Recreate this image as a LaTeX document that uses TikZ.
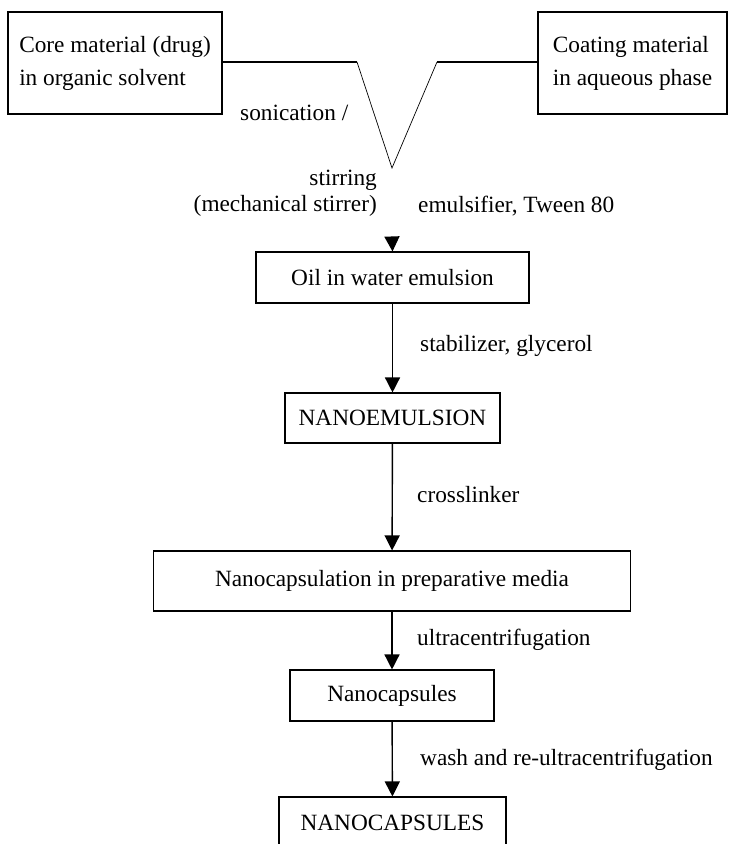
\documentclass[tikz,border=0pt]{standalone}
\usepackage{fontspec}
\setmainfont{Liberation Serif}
\usetikzlibrary{arrows.meta}

\begin{document}
\begin{tikzpicture}[x=1pt,y=-1pt,
    caixa/.style={draw, line width=1.1pt, inner sep=0pt, align=center},
    seta/.style={line width=1.4pt, -{Triangle[width=15pt,length=15pt]}},
    rotulo/.style={inner sep=0pt, anchor=west}]
        \useasboundingbox (0,0) rectangle (729,844);
        \fontsize{23.3}{33}\selectfont

        % Materiais de partida
        \node[caixa, minimum width=214pt, minimum height=102pt, align=left] (core) at (115,63)
          {Core material (drug)\\in organic solvent};
        \node[caixa, minimum width=189pt, minimum height=102pt, align=left] (coat) at (632.5,63)
          {Coating material\\in aqueous phase};

        % Mistura
        \coordinate (vl) at (357,62);
        \coordinate (vb) at (392,168);
        \coordinate (vr) at (437,62);
        \draw[line width=1.6pt] (core.east |- vl) -- (vl);
        \draw[line width=0.7pt] (vl) -- (vb) -- (vr);
        \draw[line width=1.6pt] (vr) -- (coat.west |- vr);

        \node[rotulo] (son) at (240,113) {sonication /};
        \node[inner sep=0pt, anchor=east] (stir) at (377,180) {stirring};
        \node[inner sep=0pt, anchor=east] (mech) at (377,206) {(mechanical stirrer)};
        \node[rotulo] (emul) at (418,206) {emulsifier, Tween 80};

        % Etapas
        \node[caixa, minimum width=273pt, minimum height=51pt] (oil) at (392.5,277.5) {Oil in water emulsion};
        \node[caixa, minimum width=215pt, minimum height=50pt] (nanoem) at (392.5,418) {NANOEMULSION};
        \node[caixa, minimum width=477pt, minimum height=60pt] (media) at (392,581) {Nanocapsulation in preparative media};
        \node[caixa, minimum width=204pt, minimum height=51pt] (caps) at (392,695.5) {Nanocapsules};
        \node[caixa, minimum width=227pt, minimum height=51pt] (capsf) at (392.5,822.5) {NANOCAPSULES};

        \coordinate (topo) at (392,237);
        \draw[seta] (topo) -- (oil.north);
        \draw[seta] (oil) -- (nanoem);
        \draw[seta] (nanoem) -- (media);
        \draw[seta] (media) -- (caps);
        \draw[seta] (caps) -- (capsf);

        \node[rotulo] (stab) at (420,346) {stabilizer, glycerol};
        \node[rotulo] (cross) at (417,495) {crosslinker};
        \node[rotulo] (ultra) at (417,640) {ultracentrifugation};
        \node[rotulo] (wash) at (420,760) {wash and re-ultracentrifugation};
    \end{tikzpicture}
\end{document}
